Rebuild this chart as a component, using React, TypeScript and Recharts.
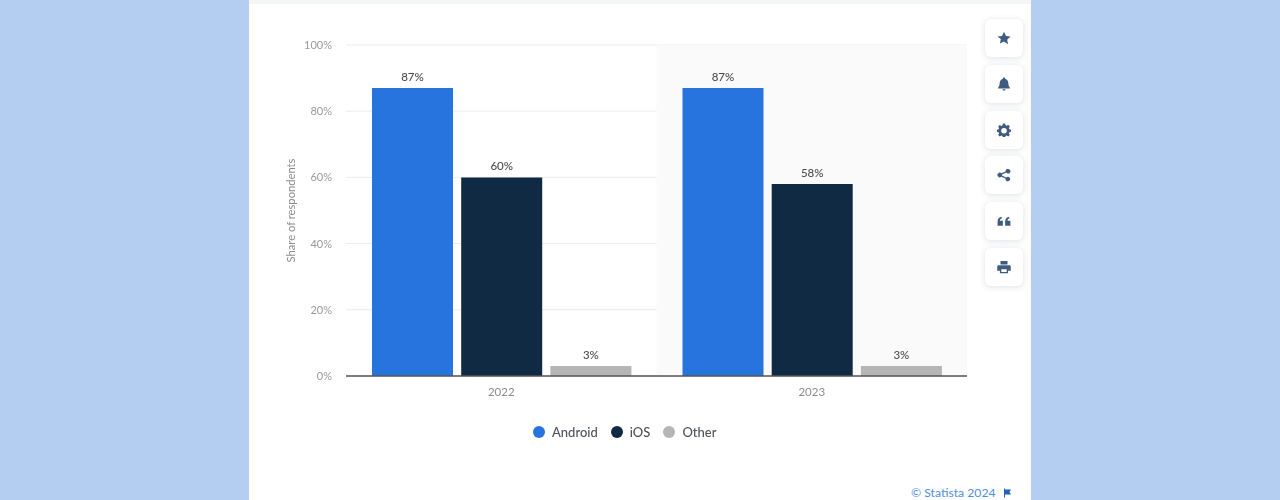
import { Bar, BarChart, CartesianGrid, LabelList, Legend, ReferenceArea, XAxis, YAxis } from "recharts";

const YEARS = ["2022", "2023"];
const ANDROID = [87, 87];
const IOS = [60, 58];
const OTHER = [3, 3];
const Y_TICKS = [0, 20, 40, 60, 80, 100];

const SERIES = [
  { key: "Android", values: ANDROID, color: "#2874de" },
  { key: "iOS", values: IOS, color: "#0f2a42" },
  { key: "Other", values: OTHER, color: "#b5b5b5" },
];

const chartData = YEARS.map((year, i) => {
  const row: Record<string, string | number> = { year };
  SERIES.forEach((s) => {
    row[s.key] = s.values[i];
  });
  return row;
});

const FONT = "Lato, 'Noto Sans', sans-serif";
const ICON_COLOR = "#3f5b80";

const ICONS = [
  <path key="star" d="M6 .6l1.700 3.600 3.900.5-2.900 2.700.8 3.900L6 8.900l-3.500 1.900.8-3.900L.4 4.700l3.900-.5z" />,
  <path key="bell" d="M6 .5c.6 0 1 .4 1 .9 1.800.5 2.700 2 2.700 3.800 0 2 .5 3 1.300 3.800v.8H1v-.8c.8-.8 1.300-1.800 1.300-3.800 0-1.800.9-3.300 2.700-3.800 0-.5.4-.9 1-.9zM4.700 10.500h2.600c0 .7-.6 1.200-1.300 1.200s-1.300-.5-1.300-1.200z" />,
  <path
    key="gear"
    fillRule="evenodd"
    d="M5 .5h2l.3 1.500 1 .4 1.300-.8 1.400 1.400-.8 1.300.4 1 1.400.3v2l-1.400.3-.4 1 .8 1.300-1.400 1.400-1.300-.8-1 .4-.3 1.400H5l-.3-1.400-1-.4-1.300.8L1 10.300l.8-1.300-.4-1L0 7.700v-2l1.400-.3.4-1L1 3.100 2.400 1.700l1.300.8 1-.4zM6 4.300a2.400 2.400 0 100 4.800 2.400 2.400 0 000-4.800z"
  />,
  <path
    key="share"
    d="M9.500.8a2 2 0 11-1.700 3.100L4.300 5.500a2 2 0 010 1l3.500 1.600a2 2 0 11-.5 1L3.700 7.500a2 2 0 110-3l3.600-1.600A2 2 0 019.500.8z"
  />,
  <path key="quote" d="M.5 10V6.500C.5 4 1.800 2.700 4 2.300v1.500c-1 .3-1.500 1-1.500 2H5V10zM7 10V6.500c0-2.500 1.300-3.800 3.500-4.200v1.500c-1 .3-1.500 1-1.500 2h2.500V10z" />,
  <path
    key="print"
    fillRule="evenodd"
    d="M3 .8h6v3H3zM1.500 4.500h9c.8 0 1.300.5 1.300 1.300v3.400H9.500v2.200h-7V9.200H.2V5.800c0-.8.5-1.300 1.300-1.300zM3.700 8v2.200h4.600V8z"
  />,
];
const ICON_TOPS = [19, 65, 111, 156, 202, 248];

function ChartLegend() {
  return (
    <div style={{ display: "flex", alignItems: "center", fontFamily: FONT, fontSize: 13, fontWeight: 500, color: "#4c5259" }}>
      {SERIES.map((s) => (
        <div key={s.key} style={{ display: "flex", alignItems: "center", marginRight: 13 }}>
          <span style={{ width: 12, height: 12, borderRadius: "50%", backgroundColor: s.color, marginRight: 7 }} />
          <span>{s.key}</span>
        </div>
      ))}
    </div>
  );
}

export default function App() {
  return (
    <div style={{ position: "fixed", left: 0, top: 0, width: 1280, height: 500, overflow: "hidden", background: "#b3cef1" }}>
      <div style={{ position: "absolute", left: 249, top: 0, width: 782, height: 500, background: "#fff" }}>
        <div style={{ height: 4, background: "#f3f5f7" }} />
      </div>
      <div style={{ position: "absolute", left: 0, top: 0, filter: "blur(0.35px)" }}>
        <BarChart
          width={1280}
          height={500}
          data={chartData}
          margin={{ top: 45, right: 313, bottom: 78, left: 280 }}
          barCategoryGap={26}
          barGap={8.2}
        >
          <ReferenceArea x1="2023" x2="2023" y1={0} y2={100} fill="#fafafa" fillOpacity={1} stroke="none" />
          <CartesianGrid vertical={false} stroke="#ececec" />
          <XAxis
            dataKey="year"
            height={30}
            tickLine={false}
            axisLine={{ stroke: "#555555", strokeWidth: 1.5 }}
            tickMargin={6}
            tick={{ fontFamily: FONT, fontSize: 11.5, fill: "#8c8c8c" }}
          />
          <YAxis
            width={66}
            domain={[0, 100]}
            ticks={Y_TICKS}
            tickFormatter={(v: number) => `${v}%`}
            axisLine={false}
            tickLine={false}
            tickMargin={8}
            tick={{ fontFamily: FONT, fontSize: 11, fill: "#9a9a9a" }}
            label={{
              value: "Share of respondents",
              angle: -90,
              position: "insideLeft",
              offset: 11,
              style: { fontFamily: FONT, fontSize: 11.2, fill: "#8c8c8c", textAnchor: "middle" },
            }}
          />
          <Legend
            content={<ChartLegend />}
            wrapperStyle={{ position: "absolute", left: 533, top: 424, width: "auto" }}
          />
          {SERIES.map((s) => (
            <Bar key={s.key} dataKey={s.key} fill={s.color} isAnimationActive={false}>
              <LabelList
                dataKey={s.key}
                position="top"
                offset={7}
                formatter={(v: number) => `${v}%`}
                style={{ fontFamily: FONT, fontSize: 11.5, fontWeight: 500, fill: "#4c4c4c" }}
              />
            </Bar>
          ))}
        </BarChart>
      </div>
      {ICON_TOPS.map((top, i) => (
        <div
          key={top}
          style={{
            position: "absolute",
            left: 985,
            top,
            width: 38,
            height: 38,
            borderRadius: 6,
            background: "#fff",
            boxShadow: "0 1px 6px rgba(40,60,90,0.16)",
            display: "flex",
            alignItems: "center",
            justifyContent: "center",
          }}
        >
          <svg width={14} height={14} viewBox="0 0 12 12" fill={ICON_COLOR} style={{ filter: "blur(0.3px)" }}>
            {ICONS[i]}
          </svg>
        </div>
      ))}
      <div style={{ position: "absolute", left: 911, top: 485, fontFamily: FONT, fontSize: 12.2, color: "#4f8ede", whiteSpace: "nowrap" }}>
        © Statista 2024
      </div>
      <svg style={{ position: "absolute", left: 1003, top: 488 }} width={9} height={10} viewBox="0 0 9 9" fill="#1f5fc0">
        <path d="M1 0h1v1h6L6.500 3.500 8 6H2v3H1z" />
      </svg>
    </div>
  );
}
